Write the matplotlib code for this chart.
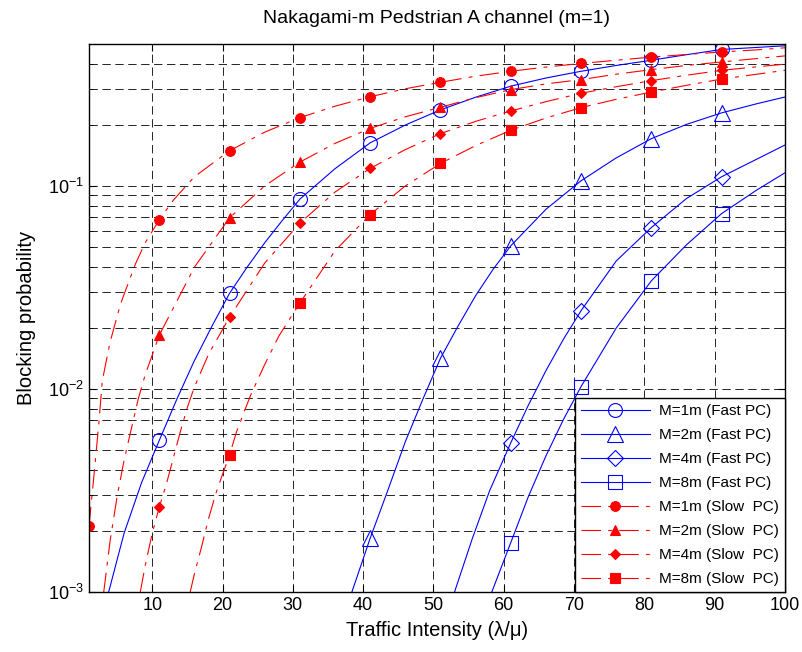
import numpy as np
import matplotlib
matplotlib.use("Agg")
import matplotlib.pyplot as plt
from matplotlib.ticker import LogLocator, FixedLocator, NullFormatter

plt.rcParams["font.family"] = ["Liberation Sans", "DejaVu Sans"]

# ─── data ────────────────────────────────────────────
mark_x = [1, 11, 21, 31, 41, 51, 61, 71, 81, 91]

# fast power control (blue, solid)
fast1_x = [3.8, 6, 8.5, 11, 13.5, 16, 18.5, 21, 23.5, 26, 28.5, 31, 36, 41, 46, 51, 56, 61, 66,
           71, 76, 81, 86, 91, 96, 100]
fast1_y = [0.001, 0.00195, 0.00347, 0.00558, 0.00891, 0.0138, 0.0204, 0.0296, 0.0398, 0.0525,
           0.0676, 0.0861, 0.1216, 0.163, 0.1995, 0.237, 0.2735, 0.310, 0.340, 0.367, 0.392,
           0.416, 0.443, 0.470, 0.481, 0.490]

fast2_x = [38.4, 41, 43.5, 46, 48.5, 51, 53.5, 56, 58.5, 61, 66, 71, 76, 81, 86, 91, 96, 100]
fast2_y = [0.001, 0.00184, 0.00316, 0.0055, 0.00891, 0.01417, 0.0204, 0.0288, 0.0389, 0.0507,
           0.0767, 0.106, 0.1374, 0.171, 0.201, 0.229, 0.254, 0.274]

fast4_x = [53, 55.5, 58, 61, 63.5, 66, 68.5, 71, 76, 81, 86, 91, 96, 100]
fast4_y = [0.001, 0.00182, 0.00316, 0.00543, 0.00832, 0.0123, 0.0176, 0.0243, 0.0427, 0.0624,
           0.0867, 0.111, 0.1355, 0.159]

fast8_x = [58.3, 61, 63.5, 66, 68.5, 71, 76, 81, 86, 91, 96, 100]
fast8_y = [0.001, 0.00175, 0.00295, 0.00468, 0.00708, 0.01028, 0.01995, 0.0341, 0.0513, 0.0731,
           0.0955, 0.116]

# slow power control (red, dash-dot)
slow1_x = [1, 1.7, 2.4, 2.9, 4, 5.5, 7.6, 9, 11, 13, 16, 21, 26, 31, 36, 41, 46, 51, 56, 61,
           66, 71, 76, 81, 86, 91, 96, 100]
slow1_y = [0.00211, 0.00372, 0.00676, 0.0110, 0.0170, 0.0263, 0.0412, 0.0525, 0.0681, 0.0851,
           0.111, 0.149, 0.184, 0.217, 0.247, 0.275, 0.301, 0.324, 0.347, 0.367, 0.385, 0.401,
           0.416, 0.431, 0.444, 0.457, 0.468, 0.479]

slow2_x = [3.1, 4, 5, 6, 7, 8, 9, 11, 16, 21, 26, 31, 36, 41, 46, 51, 56, 61, 66, 71, 76, 81,
           86, 91, 96, 100]
slow2_y = [0.001, 0.00178, 0.00295, 0.00447, 0.00631, 0.00891, 0.01175, 0.0184, 0.0398, 0.0697,
           0.100, 0.131, 0.162, 0.192, 0.219, 0.244, 0.272, 0.298, 0.318, 0.334, 0.355, 0.374,
           0.392, 0.408, 0.424, 0.437]

slow4_x = [8.3, 9, 10, 11, 12, 13, 14, 15, 16, 18, 21, 26, 31, 36, 41, 46, 51, 56, 61, 66, 71,
           76, 81, 86, 91, 96, 100]
slow4_y = [0.001, 0.00135, 0.00195, 0.00262, 0.00339, 0.00457, 0.00617, 0.00813, 0.01023, 0.0148,
           0.0226, 0.0417, 0.0656, 0.0933, 0.122, 0.151, 0.181, 0.208, 0.234, 0.260, 0.286,
           0.308, 0.330, 0.351, 0.371, 0.386, 0.398]

slow8_x = [15.4, 16, 17, 18, 19, 20, 21, 22, 23, 24, 26, 28, 31, 36, 41, 46, 51, 56, 61, 66, 71,
           76, 81, 86, 91, 96, 100]
slow8_y = [0.001, 0.00123, 0.00166, 0.00229, 0.00302, 0.00380, 0.00473, 0.00617, 0.00759, 0.00933,
           0.0132, 0.0182, 0.0265, 0.0479, 0.0723, 0.100, 0.129, 0.158, 0.188, 0.216, 0.243,
           0.267, 0.290, 0.313, 0.336, 0.355, 0.371]

labels = ["M=1m (Fast PC)", "M=2m (Fast PC)", "M=4m (Fast PC)", "M=8m (Fast PC)",
          "M=1m (Slow  PC)", "M=2m (Slow  PC)", "M=4m (Slow  PC)", "M=8m (Slow  PC)"]

# ─── plot ────────────────────────────────────────────
fig = plt.figure(figsize=(8.03, 6.52), dpi=100)
ax = fig.add_axes([0.1108, 0.092, 0.8667, 0.8405])

# dash pattern is scaled by linewidth (0.8)
dashdot = (0, (17.5, 6.5, 3.5, 6.5))

series = [
    (fast1_x, fast1_y, "b", "-", "o", 10, "none"),
    (fast2_x, fast2_y, "b", "-", "^", 11, "none"),
    (fast4_x, fast4_y, "b", "-", "D", 8, "none"),
    (fast8_x, fast8_y, "b", "-", "s", 10, "none"),
    (slow1_x, slow1_y, "r", dashdot, "o", 7, "r"),
    (slow2_x, slow2_y, "r", dashdot, "^", 7, "r"),
    (slow4_x, slow4_y, "r", dashdot, "D", 5.5, "r"),
    (slow8_x, slow8_y, "r", dashdot, "s", 7, "r"),
]

for (x, y, c, ls, mk, ms, mfc), lab in zip(series, labels):
    x = np.array(x)
    idx = list(np.where(np.isin(x, mark_x))[0])
    ax.plot(x, y, color=c, linestyle=ls, linewidth=0.8, marker=mk, markersize=ms,
            markerfacecolor=mfc, markeredgecolor=c, markeredgewidth=0.8,
            markevery=idx, label=lab)

ax.set_yscale("log")
ax.set_xlim(1, 100)
ax.set_ylim(1e-3, 0.5)
ax.xaxis.set_major_locator(FixedLocator([10, 20, 30, 40, 50, 60, 70, 80, 90, 100]))
ax.yaxis.set_major_locator(LogLocator(base=10, numticks=10))
ax.yaxis.set_minor_locator(LogLocator(base=10, subs=np.arange(2, 10), numticks=20))
ax.yaxis.set_minor_formatter(NullFormatter())

grid_ls = (0, (10, 5.5))
ax.grid(True, which="major", color="k", linestyle=grid_ls, linewidth=0.6)
ax.grid(True, which="minor", axis="y", color="k", linestyle=grid_ls, linewidth=0.6)
ax.tick_params(which="both", direction="in", top=True, right=True, labelsize=13)
ax.tick_params(which="major", length=5)
ax.tick_params(which="minor", length=3)
for s in ax.spines.values():
    s.set_linewidth(1.0)

ax.set_title("Nakagami-m Pedstrian A channel (m=1)", fontsize=14, pad=15)
ax.set_xlabel("Traffic Intensity (λ/μ)", fontsize=14.5, labelpad=5)
ax.set_ylabel("Blocking probability", fontsize=14.5, labelpad=9)

leg = ax.legend(loc="lower right", fontsize=11, handlelength=4.5, borderaxespad=0,
                fancybox=False, framealpha=1, edgecolor="k", labelspacing=0.65,
                handletextpad=0.6, borderpad=0.4)
leg.get_frame().set_linewidth(1.0)

fig.savefig("out.png", dpi=100)
